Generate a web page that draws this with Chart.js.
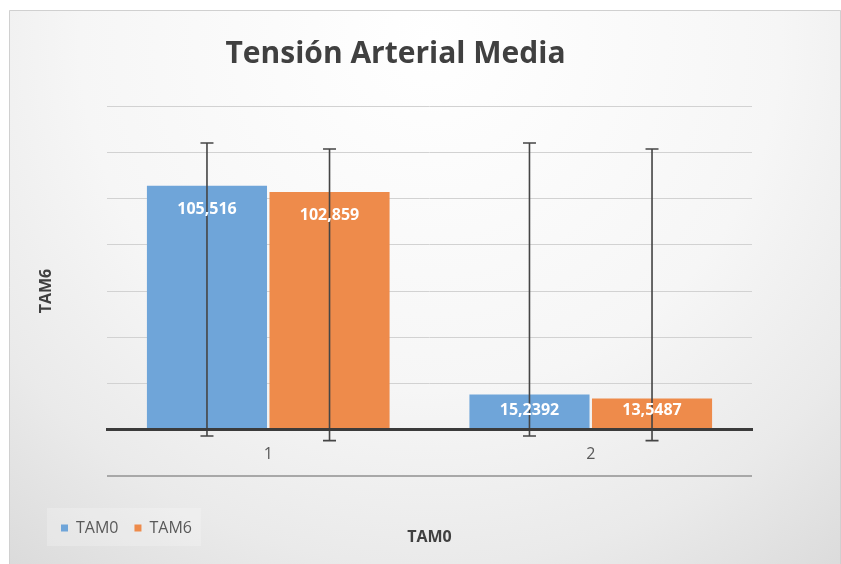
<!DOCTYPE html>
<html>
<head>
<meta charset="utf-8">
<script src="https://cdn.jsdelivr.net/npm/chart.js@4.4.0/dist/chart.umd.min.js"></script>
<style>
html, body { margin: 0; padding: 0; background: #ffffff; }
canvas { display: block; }
</style>
</head>
<body>
<canvas id="c" width="841" height="564"></canvas>
<script>
// ---- data ----
const categories = ['1', '2'];
const seriesNames = ['TAM0', 'TAM6'];
const tam0Values = [105.516, 15.2392];
const tam6Values = [102.859, 13.5487];
const tam0ErrorHigh = [124.0, 124.0];
const tam0ErrorLow = [-2.7, -2.7];
const tam6ErrorHigh = [121.4, 121.4];
const tam6ErrorLow = [-4.7, -4.7];
const yTicks = [-20, 0, 20, 40, 60, 80, 100, 120, 140];
const chartTitle = 'Tensión Arterial Media';
const xAxisTitle = 'TAM0';
const yAxisTitle = 'TAM6';

const seriesColors = ['#6fa5d9', '#ee8b4b'];
const errorHigh = [tam0ErrorHigh, tam6ErrorHigh];
const errorLow = [tam0ErrorLow, tam6ErrorLow];

Chart.defaults.font.family = "'Open Sans', 'DejaVu Sans', sans-serif";

const backgroundPlugin = {
  id: 'frameBackground',
  beforeDraw(chart) {
    const ctx = chart.ctx;
    const W = chart.width, H = chart.height;
    ctx.save();
    ctx.fillStyle = '#ffffff';
    ctx.fillRect(0, 0, W, H);
    const g = ctx.createRadialGradient(430, 40, 0, 430, 40, 700);
    g.addColorStop(0, '#ffffff');
    g.addColorStop(0.5, '#f6f6f6');
    g.addColorStop(0.75, '#eaeaea');
    g.addColorStop(1, '#d8d8d8');
    ctx.fillStyle = g;
    ctx.fillRect(9, 10, W - 9, H - 10);
    ctx.strokeStyle = '#d0d0d0';
    ctx.lineWidth = 1;
    ctx.beginPath();
    ctx.moveTo(9.5, H);
    ctx.lineTo(9.5, 10.5);
    ctx.lineTo(W - 0.5, 10.5);
    ctx.lineTo(W - 0.5, H);
    ctx.stroke();

    // legend background
    const lg = chart.legend;
    if (lg && lg.legendHitBoxes && lg.legendHitBoxes.length) {
      const hb = lg.legendHitBoxes;
      const first = hb[0], last = hb[hb.length - 1];
      const x0 = first.left - 14;
      const x1 = last.left + last.width + 9;
      const y0 = lg.top + 32;
      const y1 = lg.bottom;
      ctx.fillStyle = 'rgba(255,255,255,0.22)';
      ctx.fillRect(x0, y0, x1 - x0, y1 - y0);
    }

    // chart title
    ctx.fillStyle = '#404040';
    ctx.font = "bold 30px 'Open Sans', sans-serif";
    ctx.textAlign = 'center';
    ctx.textBaseline = 'alphabetic';
    ctx.fillText(chartTitle, 395.5, 63);
    ctx.restore();
  }
};

const errorBarsAndLabels = {
  id: 'errorBarsAndLabels',
  afterDatasetsDraw(chart) {
    const ctx = chart.ctx;
    const ys = chart.scales.y;
    ctx.save();
    chart.data.datasets.forEach((ds, i) => {
      const meta = chart.getDatasetMeta(i);
      meta.data.forEach((bar, j) => {
        const yh = ys.getPixelForValue(errorHigh[i][j]);
        const yl = ys.getPixelForValue(errorLow[i][j]);
        ctx.strokeStyle = '#454545';
        ctx.lineWidth = 1.6;
        ctx.beginPath();
        ctx.moveTo(bar.x, yh); ctx.lineTo(bar.x, yl);
        ctx.moveTo(bar.x - 6.5, yh); ctx.lineTo(bar.x + 6.5, yh);
        ctx.moveTo(bar.x - 6.5, yl); ctx.lineTo(bar.x + 6.5, yl);
        ctx.stroke();
      });
    });
    chart.data.datasets.forEach((ds, i) => {
      const meta = chart.getDatasetMeta(i);
      meta.data.forEach((bar, j) => {
        const txt = String(ds.data[j]).replace('.', ',');
        const y = Math.min(bar.y + 24, bar.base - 19);
        ctx.fillStyle = '#ffffff';
        ctx.font = "bold 16px 'Open Sans', sans-serif";
        ctx.textAlign = 'center';
        ctx.textBaseline = 'middle';
        ctx.fillText(txt, bar.x, y);
      });
    });
    ctx.restore();
  }
};

new Chart(document.getElementById('c'), {
  type: 'bar',
  data: {
    labels: categories,
    datasets: [
      { label: seriesNames[0], data: tam0Values, backgroundColor: seriesColors[0], borderWidth: 0,
        barPercentage: 0.98, categoryPercentage: 0.76 },
      { label: seriesNames[1], data: tam6Values, backgroundColor: seriesColors[1], borderWidth: 0,
        barPercentage: 0.98, categoryPercentage: 0.76 }
    ]
  },
  options: {
    responsive: false,
    animation: false,
    devicePixelRatio: 1,
    layout: { padding: { left: 45, right: 89, top: 106, bottom: 18 } },
    plugins: {
      title: { display: false },
      tooltip: { enabled: false },
      legend: {
        display: true,
        position: 'bottom',
        align: 'start',
        title: { display: true, text: '', padding: { top: 18, bottom: 0 }, font: { size: 10, lineHeight: 1 } },
        labels: { boxWidth: 7, boxHeight: 7, padding: 16, color: '#595959', font: { size: 16 } }
      }
    },
    scales: {
      x: {
        position: { y: 0 },
        grid: { display: false, drawTicks: false },
        border: { display: true, color: '#3b3b3b', width: 3, z: 1 },
        ticks: { color: '#595959', font: { size: 16 }, padding: 15 },
        title: { display: true, text: xAxisTitle, color: '#404040',
                 font: { size: 16, weight: 'bold' }, padding: { top: 49, bottom: 0 } }
      },
      y: {
        min: yTicks[0],
        max: yTicks[yTicks.length - 1],
        afterBuildTicks: (scale) => { scale.ticks = yTicks.map(v => ({ value: v })); },
        ticks: { display: false },
        grid: {
          drawTicks: false,
          color: (c) => (c.tick && c.tick.value === 0) ? 'rgba(0,0,0,0)' :
                        (c.tick && c.tick.value === yTicks[0]) ? '#a8a8a8' : '#d2d2d2',
          lineWidth: (c) => (c.tick && c.tick.value === yTicks[0]) ? 2 : 1
        },
        border: { display: false },
        title: { display: true, text: yAxisTitle, color: '#404040',
                 font: { size: 16, weight: 'bold', lineHeight: 0.2 }, padding: { top: 0, bottom: 58.8 } }
      }
    }
  },
  plugins: [backgroundPlugin, errorBarsAndLabels]
});
</script>
</body>
</html>
